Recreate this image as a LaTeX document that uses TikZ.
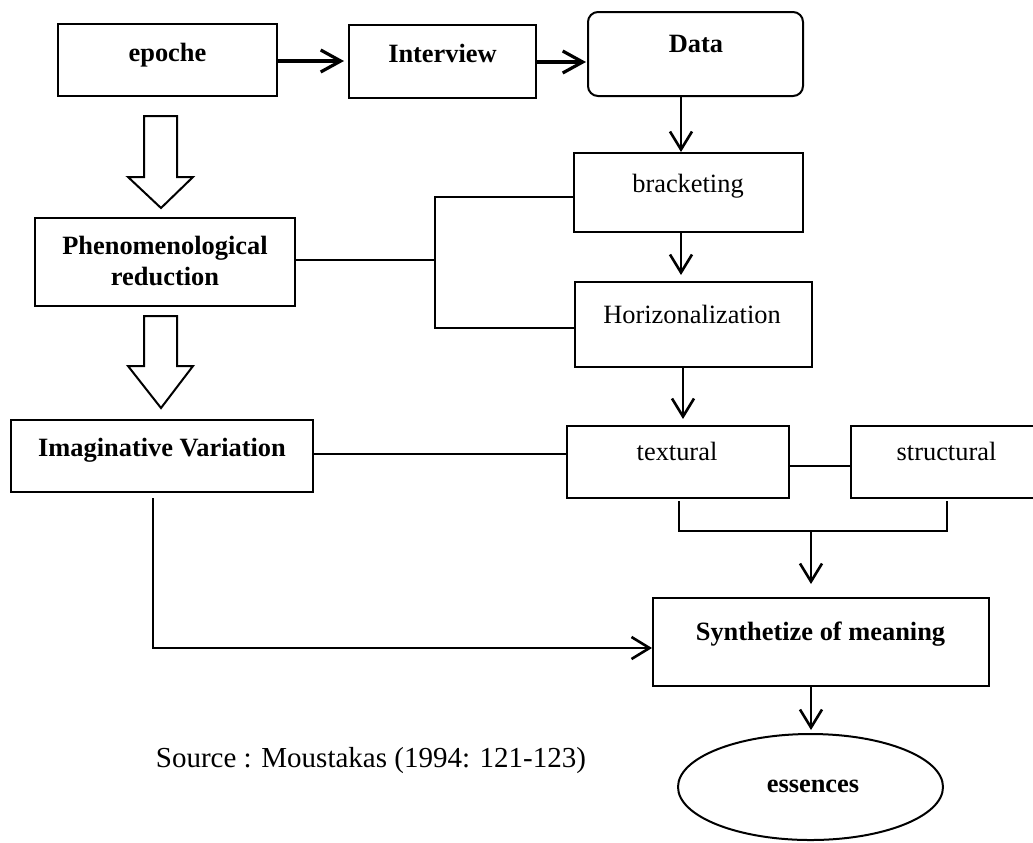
\documentclass[tikz,border=0pt]{standalone}
\usepackage{fontspec}
\setmainfont{Liberation Serif}
\usetikzlibrary{arrows.meta,shapes.geometric}
\tikzset{
  box/.style={draw, line width=1pt, inner sep=0pt, rectangle},
  txt/.style={inner sep=0pt, anchor=base, font=\fontsize{13.2}{15.5}\selectfont},
  btxt/.style={txt, font=\fontsize{13.2}{15.5}\selectfont\bfseries},
  thickarrow/.style={line width=1.6pt, -{Straight Barb[length=10pt,width=11pt,line width=1.6pt]}},
  medarrow/.style={line width=1.3pt, -{Straight Barb[length=9pt,width=11pt,line width=1.3pt]}},
  thinline/.style={line width=0.65pt},
  medline/.style={line width=1.3pt},
  blockarrow/.style={draw, line width=1pt, fill=white, line join=miter},
}
\begin{document}
\begin{tikzpicture}[x=0.5pt,y=-0.5pt]
\clip (0,0) rectangle (1033,842);
\fill[white] (0,0) rectangle (1033,842);

% boxes
\node[box, minimum width=109.5pt, minimum height=36pt] (epoche) at (167.5,60) {};
\node[box, minimum width=93.5pt, minimum height=36.5pt] (interview) at (442.5,61.5) {};
\node[box, rounded corners=5pt, minimum width=107.5pt, minimum height=42pt] (data) at (695.5,54) {};
\node[box, minimum width=114.5pt, minimum height=39.5pt] (bracketing) at (688.5,192.5) {};
\node[box, minimum width=118.5pt, minimum height=42.5pt] (horiz) at (693.5,324.5) {};
\node[box, minimum width=130pt, minimum height=44pt] (phenom) at (165,262) {};
\node[box, minimum width=151pt, minimum height=36pt] (iv) at (162,456) {};
\node[box, minimum width=111pt, minimum height=36pt] (textural) at (678,462) {};
\node[box, minimum width=94.5pt, minimum height=36pt] (structural) at (945.5,462) {};
\node[box, minimum width=168pt, minimum height=44pt] (synth) at (821,642) {};
\node[draw, line width=1pt, inner sep=0pt, ellipse, minimum width=132.5pt, minimum height=53pt] (essences) at (810.5,787) {};

% texts
\node[btxt] (t-epoche) at (167.5,61) {epoche};
\node[btxt] (t-interview) at (442.5,62) {Interview};
\node[btxt] (t-data) at (696,52) {Data};
\node[txt] (t-bracketing) at (688,192) {bracketing};
\node[txt] (t-horiz) at (692,323) {Horizonalization};
\node[btxt] (t-phenom1) at (165,254) {Phenomenological};
\node[btxt] (t-phenom2) at (165,285) {reduction};
\node[btxt] (t-iv) at (162,456) {Imaginative Variation};
\node[txt] (t-textural) at (677,460) {textural};
\node[txt] (t-structural) at (946.5,460) {structural};
\node[btxt] (t-synth) at (820.5,640) {Synthetize of meaning};
\node[btxt] (t-essences) at (813,792) {essences};
\node[txt, font=\fontsize{14.5}{17}\selectfont] (source) at (371,767) {Source : Moustakas (1994: 121-123)};

% helper coordinates
\coordinate (xa) at (681,0);
\coordinate (xb) at (683,0);
\coordinate (j1) at (435,197);
\coordinate (j2) at (435,328);
\coordinate (ts) at (0,466);
\coordinate (b1) at (679,531);
\coordinate (b2) at (947,531);
\coordinate (bm) at (811,531);
\coordinate (ivx) at (153,648);

% top arrows
\draw[thickarrow, shorten >=2pt] (epoche.east |- 0,61) -- (interview.west |- 0,61);
\draw[thickarrow, shorten >=0.5pt] (interview.east |- 0,62) -- (data.west |- 0,62);

% right column arrows
\draw[medarrow] (xa |- data.south) -- (xa |- bracketing.north);
\draw[medarrow, shorten >=3pt] (xa |- bracketing.south) -- (xa |- horiz.north);
\draw[medarrow, shorten >=3pt] (xb |- horiz.south) -- (xb |- textural.north);

% bracket to phenomenological reduction
\draw[thinline] (j1 -| bracketing.west) -- (j1) -- (j2) -- (j2 -| horiz.west);
\draw[thinline] (phenom.east |- 0,260) -- (j1 |- 0,260);

% imaginative variation to textural
\draw[thinline] (iv.east |- 0,454) -- (textural.west |- 0,454);
% textural to structural
\draw[thinline] (textural.east |- ts) -- (structural.west |- ts);

% bottom bracket
\draw[medline] ([yshift=-1pt]b1 |- textural.south) -- (b1) -- (b2) -- ([yshift=-1pt]b2 |- structural.south);
\draw[medarrow] (bm) -- ([yshift=6.5pt]bm |- synth.north);

% imaginative variation to synthesis
\draw[medarrow] ([yshift=-2.5pt]ivx |- iv.south) -- (ivx) -- (ivx -| synth.west);

% synthesis to essences
\draw[medarrow, shorten >=1.5pt] (bm |- synth.south) -- (bm |- essences.north);

% block arrows
\draw[blockarrow] (144,116) -- (177,116) -- (177,177) -- (193,177) -- (161,208) -- (128,177) -- (144,177) -- cycle;
\draw[blockarrow] (144,316) -- (177,316) -- (177,366) -- (193,366) -- (161,408) -- (128,366) -- (144,366) -- cycle;
\end{tikzpicture}
\end{document}
